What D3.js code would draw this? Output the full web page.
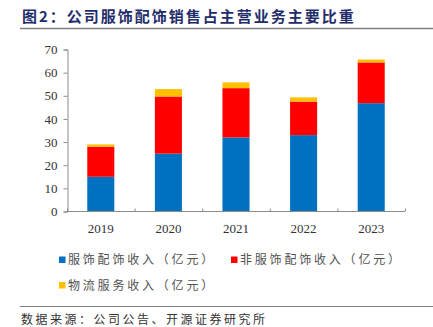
<!DOCTYPE html>
<html><head><meta charset="utf-8">
<script src="https://cdn.jsdelivr.net/npm/d3@7"></script>
<style>body{margin:0;background:#fff}svg{display:block}</style>
</head><body><svg id="c" width="433" height="327"></svg>
<script>
const years = ["2019","2020","2021","2022","2023"];
const apparel = [15, 25, 32, 33, 46.8];
const nonApparel = [13, 24.7, 21.3, 14.5, 17.6];
const logistics = [1, 3.2, 2.5, 1.8, 1.3];
const seriesNames = ["服饰配饰收入（亿元）","非服饰配饰收入（亿元）","物流服务收入（亿元）"];
const colors = ["#0070C0","#FF0000","#FFC000"];
const yTicks = [0,10,20,30,40,50,60,70];

const svg = d3.select("#c");
const cjk = "'Noto Sans CJK SC', sans-serif";
const serif = "'Liberation Serif','Times New Roman',serif";

svg.append("text").attr("x",22).attr("y",22).text("图2：公司服饰配饰销售占主营业务主要比重")
  .attr("font-family",cjk).attr("font-weight","bold").attr("font-size",15).attr("letter-spacing",2.0).attr("fill","#1F2D6B");
svg.append("line").attr("x1",20).attr("x2",433).attr("y1",28.5).attr("y2",28.5).attr("stroke","#808080").attr("stroke-width",1.5);

const x = d3.scaleBand().domain(years).range([67,405]).paddingInner(0.6).paddingOuter(0.3);
const y = d3.scaleLinear().domain([0,70]).range([211.5,49.5]);

const data = years.map((yr,i)=>({year:yr, a:apparel[i], b:nonApparel[i], c:logistics[i]}));
const stack = d3.stack().keys(["a","b","c"])(data);
svg.append("g").selectAll("g").data(stack).join("g").attr("fill",(d,i)=>colors[i])
  .selectAll("rect").data(d=>d).join("rect")
  .attr("x",d=>x(d.data.year)).attr("width",x.bandwidth())
  .attr("y",d=>y(d[1])).attr("height",d=>y(d[0])-y(d[1]));

const yAxis = svg.append("g").attr("transform","translate(67.5,0)")
  .call(d3.axisLeft(y).tickValues(yTicks).tickSize(4).tickPadding(6));
yAxis.select(".domain").attr("stroke","#8c8c8c");
yAxis.selectAll("line").attr("stroke","#8c8c8c");
yAxis.selectAll("text").attr("font-family",serif).attr("font-size",13).attr("fill","#333");

const xb = d3.scaleLinear().domain([0,5]).range([67,405]);
const xAxis = svg.append("g").attr("transform","translate(0,211.5)");
xAxis.append("line").attr("x1",67).attr("x2",405).attr("stroke","#8c8c8c");
xAxis.selectAll("line.t").data(d3.range(6)).join("line").attr("class","t")
  .attr("x1",d=>xb(d)+0.5).attr("x2",d=>xb(d)+0.5).attr("y1",0).attr("y2",-3).attr("stroke","#8c8c8c");
xAxis.selectAll("text").data(years).join("text")
  .attr("x",d=>x(d)+x.bandwidth()/2).attr("y",21.5).attr("text-anchor","middle")
  .attr("font-family",serif).attr("font-size",13).attr("fill","#333").text(d=>d);

const legendPos = [[59,259.5],[231,259.5],[59,285]];
const lg = svg.append("g");
seriesNames.forEach((n,i)=>{
  const [lx,ly]=legendPos[i];
  lg.append("rect").attr("x",lx).attr("y",ly-3).attr("width",6.5).attr("height",6.5).attr("fill",colors[i]);
  lg.append("text").attr("x",lx+9).attr("y",ly+4.5).text(n)
    .attr("font-family",cjk).attr("font-size",12).attr("letter-spacing",2.8).attr("fill","#505050");
});

svg.append("line").attr("x1",20).attr("x2",433).attr("y1",306.5).attr("y2",306.5).attr("stroke","#808080").attr("stroke-width",1.2);
svg.append("text").attr("x",21).attr("y",324).text("数据来源：公司公告、开源证券研究所")
  .attr("font-family",cjk).attr("font-size",12).attr("letter-spacing",2.5).attr("fill","#333");
</script></body></html>
